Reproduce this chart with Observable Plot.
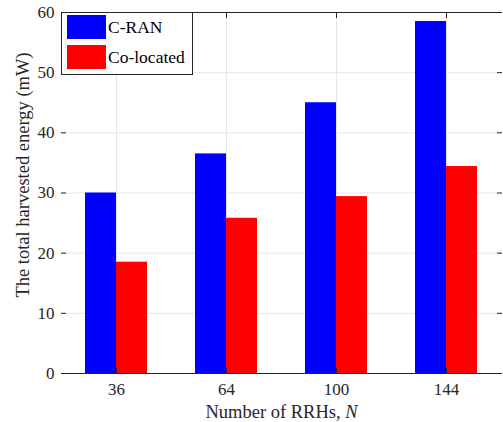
<!DOCTYPE html>
<html>
<head>
<meta charset="utf-8">
<script src="https://cdn.jsdelivr.net/npm/d3@7"></script>
<script src="https://cdn.jsdelivr.net/npm/@observablehq/plot@0.6"></script>
<style>
  html, body { margin: 0; padding: 0; background: white; }
  #wrap { position: relative; width: 503px; height: 422px; font-family: "Liberation Serif", serif; }
  #legend { position: absolute; left: 61px; top: 12px; width: 132px; height: 63px; border: 1px solid #262626; background: white; box-sizing: border-box; }
  .item { position: absolute; left: 5px; display: flex; align-items: center; font-size: 17.5px; color: #000; }
  .sw { width: 39px; height: 24px; margin-right: 2px; }
</style>
</head>
<body>
<div id="wrap"></div>
<script>
const Ns = ["36", "64", "100", "144"];
const seriesNames = ["C-RAN", "Co-located"];
const cran = [30.0, 36.5, 45.0, 58.5];
const coloc = [18.5, 25.8, 29.4, 34.4];
const colors = ["#0000ff", "#ff0000"];
const yTicks = [0, 10, 20, 30, 40, 50, 60];
const yLabel = "The total harvested energy (mW)";
const xLabel = "Number of RRHs, N";

const data = Ns.flatMap((n, i) => [
  {N: n, series: seriesNames[0], value: cran[i]},
  {N: n, series: seriesNames[1], value: coloc[i]}
]);

const axisColor = "#262626";
const gridColor = "#e6e6e6";

const marks = [
  Plot.gridY(yTicks, {stroke: gridColor, strokeOpacity: 1}),
];
if (typeof Plot.gridFx === "function") marks.push(Plot.gridFx({stroke: gridColor, strokeOpacity: 1}));
marks.push(
  Plot.barY(data, {fx: "N", x: "series", y: "value", fill: "series"}),
  Plot.ruleY([0, 60], {stroke: axisColor}),
  Plot.axisY(yTicks, {anchor: "left", tickSize: -5, tickPadding: 12, line: true, stroke: axisColor, color: axisColor, label: yLabel, labelAnchor: "center", labelOffset: 46, labelArrow: "none"}),
  Plot.axisY(yTicks, {anchor: "right", tickSize: -5, line: true, stroke: axisColor, tickFormat: () => "", label: null}),
  Plot.axisFx({anchor: "bottom", tickSize: -5, tickPadding: 14, stroke: axisColor, color: axisColor, label: xLabel, labelAnchor: "center", labelOffset: 44, labelArrow: "none"}),
  Plot.axisFx({anchor: "top", tickSize: -5, stroke: axisColor, tickFormat: () => "", label: null})
);

const chart = Plot.plot({
  width: 503,
  height: 422,
  marginLeft: 60,
  marginRight: 1,
  marginTop: 12,
  marginBottom: 49,
  style: {fontFamily: "Liberation Serif", fontSize: "17px", color: axisColor, background: "white"},
  fx: {domain: Ns, padding: 0, label: xLabel},
  x: {domain: seriesNames, paddingInner: 0, paddingOuter: 0.74, axis: null},
  y: {domain: [0, 60], label: yLabel},
  color: {domain: seriesNames, range: colors},
  marks
});

// axis titles: size, italic N, y title nudged up like the reference
d3.select(chart).selectAll("text").each(function() {
  const t = d3.select(this);
  if (this.textContent === xLabel) {
    t.style("font-size", "18.5px");
    t.text("Number of RRHs, ");
    t.append("tspan").attr("font-style", "italic").text("N");
  } else if (this.textContent === yLabel) {
    t.style("font-size", "18.5px");
    const tr = t.attr("transform") || "";
    t.attr("transform", tr + " translate(18,0)");
  }
});

const wrap = document.getElementById("wrap");
wrap.appendChild(chart);

const legend = document.createElement("div");
legend.id = "legend";
seriesNames.forEach((s, i) => {
  const item = document.createElement("div");
  item.className = "item";
  item.style.top = (i === 0 ? 2 : 32) + "px";
  const sw = document.createElement("div");
  sw.className = "sw";
  sw.style.background = colors[i];
  const lab = document.createElement("span");
  lab.textContent = s;
  item.appendChild(sw);
  item.appendChild(lab);
  legend.appendChild(item);
});
wrap.appendChild(legend);
</script>
</body>
</html>
